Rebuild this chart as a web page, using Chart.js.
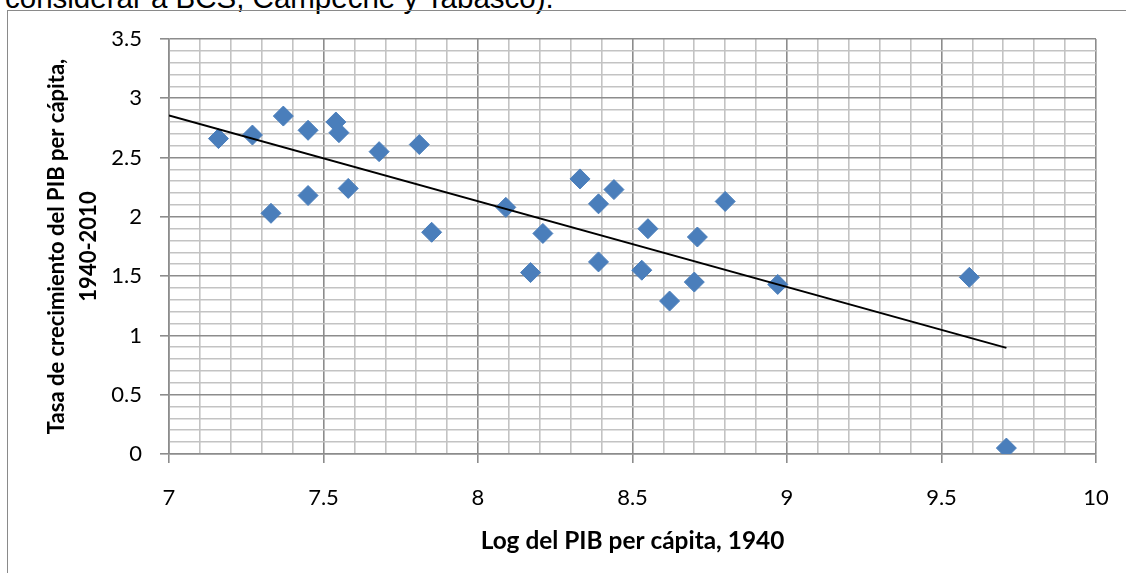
<!doctype html>
<html lang="es">
<head>
  <meta charset="utf-8">
  <title>Convergencia del PIB per cápita</title>
  <script src="https://cdn.jsdelivr.net/npm/chart.js@4.4.1/dist/chart.umd.min.js"></script>
  <style>
    html, body { margin: 0; padding: 0; background: #fff; overflow: hidden; }
    .wrap { position: relative; width: 1126px; height: 573px; }
    .doc-text {
      position: absolute; left: 5px; top: -17px;
      font-family: "Liberation Sans", Arial, sans-serif;
      font-size: 29.5px; line-height: 29px; color: #000; white-space: nowrap;
    }
    .frame {
      position: absolute; left: 7px; top: 10px; right: -5px; bottom: -5px;
      border-left: 1.5px solid #8a8a8a; border-top: 1.5px solid #8a8a8a;
    }
    canvas { position: absolute; left: 0; top: 0; }
  </style>
  <script>
    // datos
    const logPib1940 = [7.16, 7.27, 7.37, 7.45, 7.54, 7.55, 7.68, 7.81, 7.45, 7.58, 7.33, 7.85, 8.09, 8.33,
      8.44, 8.39, 8.21, 8.17, 8.39, 8.55, 8.53, 8.71, 8.70, 8.62, 8.80, 8.97, 9.59, 9.71];
    const tasaCrec = [2.66, 2.69, 2.85, 2.73, 2.80, 2.71, 2.55, 2.61, 2.18, 2.24, 2.03, 1.87, 2.08, 2.32,
      2.23, 2.11, 1.86, 1.53, 1.62, 1.90, 1.55, 1.83, 1.45, 1.29, 2.13, 1.43, 1.49, 0.05];
    // línea de tendencia (extremos)
    const trendX = [7, 9.71];
    const trendY = [2.855, 0.895];

    const xRange = [7, 10];
    const yRange = [0, 3.5];
    const majorStep = 0.5;
    const minorStep = 0.1;

    function isMajor(v) {
      return Math.abs(v / majorStep - Math.round(v / majorStep)) < 1e-6;
    }
  </script>
</head>
<body>
  <div class="wrap">
    <div class="doc-text">considerar a BCS, Campeche y Tabasco).</div>
    <div class="frame"></div>
    <canvas id="myChart" width="1126" height="573"></canvas>
  </div>
  <script>
    Chart.defaults.font.family = 'Lato';
    Chart.defaults.color = '#000';

    const points = logPib1940.map((x, i) => ({ x: x, y: tasaCrec[i] }));
    const trend = trendX.map((x, i) => ({ x: x, y: trendY[i] }));

    const gridOpts = {
      color: ctx => isMajor(ctx.tick.value) ? '#8c8c8c' : '#c3c3c3',
      lineWidth: 1.6,
      tickColor: ctx => isMajor(ctx.tick.value) ? '#8c8c8c' : 'rgba(0,0,0,0)',
      tickLength: 9
    };

    const ctx = document.getElementById('myChart').getContext('2d');
    const myChart = new Chart(ctx, {
      type: 'scatter',
      data: {
        datasets: [{
          label: 'Tendencia',
          data: trend,
          showLine: true,
          borderColor: '#000',
          borderWidth: 2,
          pointRadius: 0,
          order: 0
        }, {
          label: 'Estados',
          data: points,
          pointStyle: 'rectRot',
          pointRadius: 10,
          backgroundColor: '#4a7ebb',
          borderColor: '#4a7ebb',
          borderWidth: 1,
          order: 1
        }]
      },
      options: {
        responsive: false,
        animation: false,
        layout: { padding: { left: 0, top: 39, right: 30, bottom: 0 } },
        plugins: { legend: { display: false }, tooltip: { enabled: false } },
        scales: {
          x: {
            type: 'linear',
            min: xRange[0],
            max: xRange[1],
            // alto fijo y sin relleno extra por la última etiqueta
            afterFit: s => { s.height = 119; s.paddingLeft = 0; s.paddingRight = 0; },
            border: { color: '#8c8c8c', width: 1.6 },
            grid: gridOpts,
            ticks: {
              stepSize: minorStep,
              autoSkip: false,
              maxRotation: 0,
              padding: 22,
              font: { size: 22 },
              callback: v => isMajor(v) ? String(+v.toFixed(1)) : ''
            },
            title: {
              display: true,
              text: 'Log del PIB per cápita, 1940',
              font: { size: 24.4, weight: 'bold' },
              padding: { top: 0, bottom: 17 }
            }
          },
          y: {
            type: 'linear',
            min: yRange[0],
            max: yRange[1],
            afterFit: s => { s.width = 169; },
            border: { color: '#8c8c8c', width: 1.6 },
            grid: gridOpts,
            ticks: {
              stepSize: minorStep,
              autoSkip: false,
              padding: 18,
              font: { size: 22 },
              callback: v => isMajor(v) ? String(+v.toFixed(1)) : ''
            },
            title: {
              display: true,
              text: ['Tasa de crecimiento del PIB per cápita,', '1940-2010'],
              font: { size: 22, weight: 'bold', lineHeight: 1.45 },
              padding: { top: 41, bottom: 0 }
            }
          }
        }
      }
    });
  </script>
</body>
</html>
